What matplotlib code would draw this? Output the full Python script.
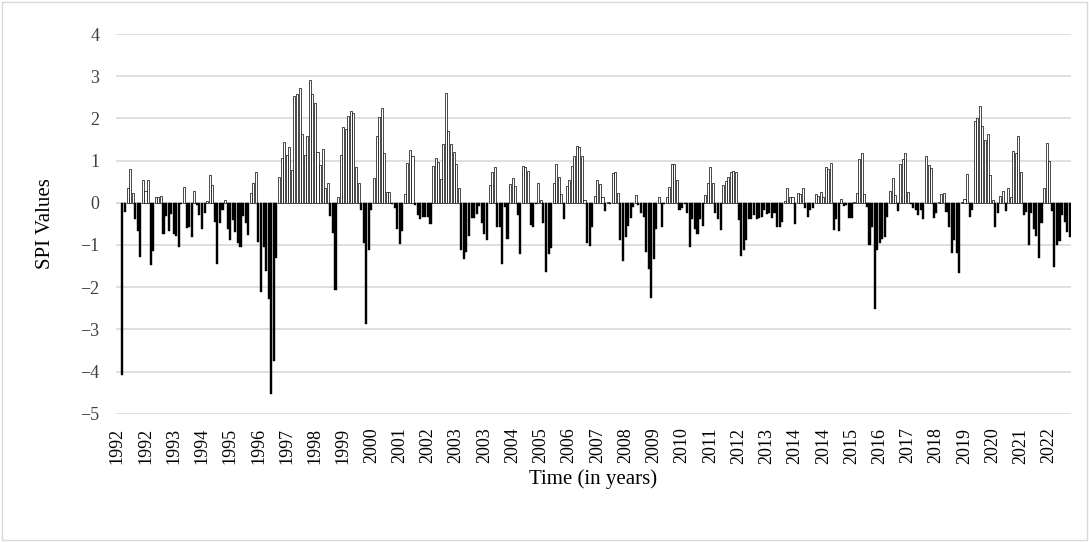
import numpy as np
import matplotlib.pyplot as plt
from matplotlib.patches import Rectangle

plt.rcParams['font.family'] = ['Liberation Serif', 'DejaVu Serif']

start_year = 1992
n_months = 372

# monthly SPI values, Jan 1992 - Dec 2022 (first two months undefined)
spi = [
    np.nan, np.nan, -4.08, -0.23, 0.34, 0.79, 0.24, -0.39, -0.68, -1.29, 0.55, 0.28,
    0.55, -1.48, -1.14, 0.13, 0.14, 0.16, -0.73, -0.32, -0.66, -0.27, -0.73, -0.78,
    -1.05, -0.04, 0.38, -0.60, -0.57, -0.80, 0.28, -0.06, -0.29, -0.61, -0.24, 0.05,
    0.66, 0.42, -0.45, -1.44, -0.47, -0.17, 0.06, -0.61, -0.88, -0.41, -0.69, -0.95,
    -1.04, -0.32, -0.47, -0.77, 0.22, 0.48, 0.72, -0.92, -2.11, -1.04, -1.61, -2.29,
    -4.53, -3.75, -1.30, 0.60, 1.05, 1.43, 1.13, 1.32, 0.77, 2.53, 2.59, 2.71,
    1.64, 1.14, 1.58, 2.91, 2.59, 2.37, 1.21, 0.89, 1.28, 0.36, 0.46, -0.32,
    -0.71, -2.07, 0.14, 1.13, 1.80, 1.74, 2.05, 2.17, 2.13, 0.85, 0.46, -0.17,
    -0.95, -2.88, -1.11, -0.16, 0.58, 1.58, 2.04, 2.24, 1.18, 0.26, 0.26, -0.04,
    -0.13, -0.61, -0.98, -0.67, 0.20, 0.95, 1.25, 1.11, -0.06, -0.29, -0.39, -0.33,
    -0.33, -0.33, -0.50, 0.87, 1.07, 0.97, 0.56, 1.39, 2.61, 1.71, 1.39, 1.20,
    0.93, 0.34, -1.12, -1.34, -1.16, -0.79, -0.37, -0.36, -0.27, -0.08, -0.47, -0.73,
    -0.88, 0.43, 0.72, 0.84, -0.57, -0.58, -1.45, -0.11, -0.85, 0.44, 0.58, 0.40,
    -0.28, -1.22, 0.87, 0.85, 0.76, -0.53, -0.57, -0.04, 0.47, 0.06, -0.47, -1.65,
    -1.22, -1.08, 0.48, 0.91, 0.60, 0.20, -0.39, 0.40, 0.54, 0.88, 1.11, 1.35,
    1.33, 1.11, 0.06, -0.96, -1.02, -0.57, 0.16, 0.55, 0.44, 0.13, -0.20, 0.03,
    -0.02, 0.70, 0.72, 0.24, -0.88, -1.38, -0.80, -0.55, -0.36, -0.11, 0.18, -0.05,
    -0.24, -0.33, -1.16, -1.56, -2.25, -1.34, -0.61, 0.14, -0.58, -0.04, 0.14, 0.38,
    0.92, 0.93, 0.55, -0.16, -0.12, -0.04, -0.25, -1.06, -0.39, -0.61, -0.73, -0.39,
    -0.55, 0.18, 0.46, 0.85, 0.46, -0.24, -0.39, -0.65, 0.42, 0.51, 0.60, 0.73,
    0.75, 0.73, -0.41, -1.26, -1.12, -0.88, -0.39, -0.39, -0.29, -0.39, -0.36, -0.33,
    -0.16, -0.27, -0.25, -0.37, -0.24, -0.57, -0.58, -0.45, 0.05, 0.34, 0.14, 0.14,
    -0.50, 0.22, 0.20, 0.34, -0.12, -0.33, -0.16, -0.12, 0.20, 0.16, 0.26, 0.13,
    0.84, 0.80, 0.95, -0.65, -0.39, -0.66, 0.10, -0.08, -0.06, -0.35, -0.36, 0.02,
    0.22, 1.03, 1.18, 0.20, -0.09, -1.01, -0.57, -2.51, -1.12, -0.95, -0.87, -0.82,
    -0.33, 0.28, 0.58, 0.18, -0.20, 0.93, 1.03, 1.19, 0.25, -0.02, -0.13, -0.16,
    -0.29, -0.16, -0.38, 1.11, 0.89, 0.83, -0.35, -0.24, 0.03, 0.20, 0.22, -0.21,
    -0.57, -1.20, -0.88, -1.20, -1.66, 0.02, 0.10, 0.68, -0.33, -0.16, 1.94, 2.00,
    2.29, 1.82, 1.50, 1.62, 0.66, 0.06, -0.58, -0.25, 0.16, 0.28, -0.19, 0.36,
    0.13, 1.22, 1.19, 1.58, 0.72, -0.29, -0.21, -1.00, -0.25, -0.61, -0.79, -1.30,
    -0.48, 0.36, 1.42, 1.00, -0.20, -1.52, -1.00, -0.90, -0.30, -0.45, -0.70, -0.80,
]

spi = np.array(spi, dtype=float)
x = np.arange(n_months)
tick_idx = np.arange(0, n_months, 11)
tick_labels = [str(start_year + i // 12) for i in tick_idx]

fig = plt.figure(figsize=(10.89, 5.42), dpi=100)
ax = fig.add_axes([0.1065, 0.2367, 0.877, 0.7005])

ok = ~np.isnan(spi)
pos = ok & (spi >= 0)
neg = ok & (spi < 0)
ax.bar(x[pos], spi[pos], width=0.8, color='white', edgecolor='black', linewidth=0.5, zorder=3)
ax.bar(x[neg], spi[neg], width=0.8, color='black', edgecolor='black', linewidth=0.3, zorder=3)

ax.set_xlim(-0.5, n_months - 0.5)
ax.set_ylim(-5, 4)
ax.set_yticks(range(-5, 5))
ax.yaxis.grid(True, color='#d9d9d9', linewidth=1.2, zorder=0)
ax.axhline(0, color='#d9d9d9', linewidth=1.2, zorder=2)
for s in ax.spines.values():
    s.set_visible(False)

ax.set_xticks(tick_idx)
ax.set_xticklabels(tick_labels, rotation=90, fontsize=13)
ax.tick_params(axis='both', length=0, labelsize=13, colors='#404040')
ax.tick_params(axis='x', pad=10, labelcolor='black')
ax.tick_params(axis='y', pad=12, labelcolor='#404040')

ax.set_xlabel('Time (in years)', fontsize=15, labelpad=4)
ax.set_ylabel('SPI Values', fontsize=15, labelpad=18)

fig.patches.append(Rectangle((0.002, 0.003), 0.996, 0.994, transform=fig.transFigure,
                             fill=False, edgecolor='#d9d9d9', linewidth=1))

fig.savefig('out.png', dpi=100)
